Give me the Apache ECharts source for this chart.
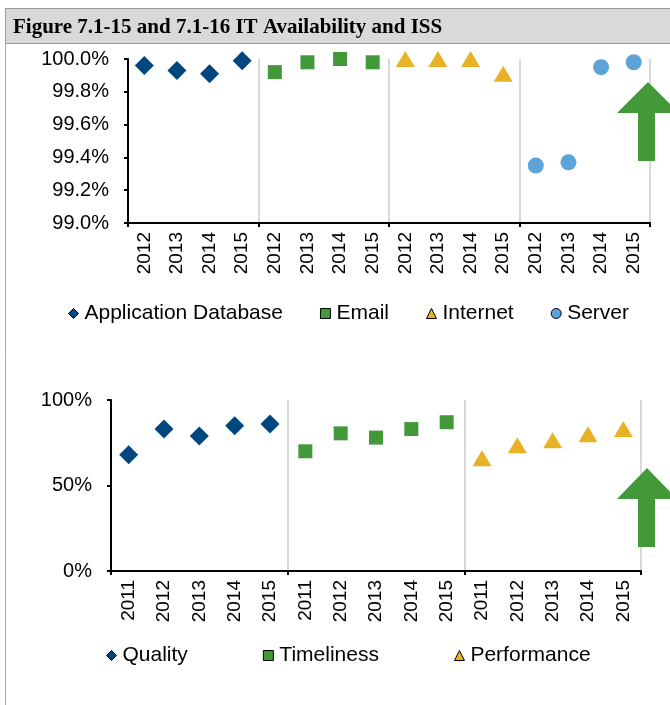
<!DOCTYPE html>
<html>
<head>
<meta charset="utf-8">
<title>IT Availability and ISS</title>
<script src="https://cdn.jsdelivr.net/npm/echarts@6/dist/echarts.min.js"></script>
<style>
  html, body { margin: 0; padding: 0; background: #fff; }
  #main { width: 670px; height: 705px; }
</style>
</head>
<body>
<div id="main"></div>
<script>
// top chart: IT availability (percent)
var topYears = ['2012', '2013', '2014', '2015'];
var appDatabase = [99.96, 99.93, 99.91, 99.99];
var email = [99.92, 99.98, 100.0, 99.98];
var internet = [100.0, 100.0, 100.0, 99.91];
var server = [99.35, 99.37, 99.95, 99.98];
var topTicks = [99.0, 99.2, 99.4, 99.6, 99.8, 100.0];

// bottom chart: ISS (percent)
var bottomYears = ['2011', '2012', '2013', '2014', '2015'];
var quality = [68, 83, 79, 85, 86];
var timeliness = [70, 80.5, 78, 83, 87];
var performance = [66, 73.5, 76.5, 80, 83];
var bottomTicks = [0, 50, 100];

var BLUE = '#00467f', GREEN = '#43983a', GOLD = '#e8b224', SKY = '#5ba3d9';
var FONT = '"Liberation Sans", Arial, sans-serif';

// category list = years repeated once per series
var topCats = [].concat(topYears, topYears, topYears, topYears);
var bottomCats = [].concat(bottomYears, bottomYears, bottomYears);

function pts(values, group, size) {
  return values.map(function (v, i) { return [group * size + i, v]; });
}

function catAxis(gridIndex, cats, groupSize) {
  // separators only at the start of each group (+ the closing one echarts adds)
  var atGroup = function (i) { return i % groupSize === 0; };
  return {
    type: 'category',
    gridIndex: gridIndex,
    data: cats,
    boundaryGap: true,
    axisLine: { lineStyle: { color: '#000', width: 2 } },
    axisTick: { show: true, interval: atGroup, length: 4, lineStyle: { color: '#000', width: 2 } },
    axisLabel: { interval: 0, rotate: 90, margin: 9, color: '#000', fontSize: 19, fontFamily: FONT },
    splitLine: { show: true, interval: atGroup, lineStyle: { color: '#d9d9d9', width: 2 } }
  };
}

var chart = echarts.init(document.getElementById('main'), null, { renderer: 'canvas' });

var option = {
  backgroundColor: '#fff',
  animation: false,
  grid: [
    { left: 128, top: 59, width: 522, height: 164 },
    { left: 111, top: 400, width: 530, height: 171 }
  ],
  xAxis: [catAxis(0, topCats, 4), catAxis(1, bottomCats, 5)],
  yAxis: [
    {
      type: 'value', gridIndex: 0,
      min: topTicks[0], max: topTicks[topTicks.length - 1], interval: 0.2,
      axisLine: { show: true, lineStyle: { color: '#000', width: 2 } },
      axisTick: { show: true, length: 4, lineStyle: { color: '#000', width: 2 } },
      axisLabel: { color: '#000', fontSize: 20, fontFamily: FONT, margin: 19,
        formatter: function (v) { return v.toFixed(1) + '%'; } },
      splitLine: { show: false }
    },
    {
      type: 'value', gridIndex: 1,
      min: bottomTicks[0], max: bottomTicks[bottomTicks.length - 1], interval: 50,
      axisLine: { show: true, lineStyle: { color: '#000', width: 2 } },
      axisTick: { show: true, length: 4, lineStyle: { color: '#000', width: 2 } },
      axisLabel: { color: '#000', fontSize: 20, fontFamily: FONT, margin: 19,
        formatter: function (v) { return v + '%'; } },
      splitLine: { show: false }
    }
  ],
  legend: [
    {
      left: 63, top: 298,
      itemWidth: 10, itemHeight: 10, itemGap: 37,
      itemStyle: { borderColor: '#000', borderWidth: 1 },
      textStyle: { color: '#000', fontSize: 21, fontFamily: FONT, padding: [0, 0, 0, 1] },
      data: [
        { name: 'Application Database', icon: 'diamond' },
        { name: 'Email', icon: 'rect' },
        { name: 'Internet', icon: 'triangle' },
        { name: 'Server', icon: 'circle' }
      ]
    },
    {
      left: 101, top: 640,
      itemWidth: 10, itemHeight: 10, itemGap: 75,
      itemStyle: { borderColor: '#000', borderWidth: 1 },
      textStyle: { color: '#000', fontSize: 21, fontFamily: FONT, padding: [0, 0, 0, 1] },
      data: [
        { name: 'Quality', icon: 'diamond' },
        { name: 'Timeliness', icon: 'rect' },
        { name: 'Performance', icon: 'triangle' }
      ]
    }
  ],
  graphic: [
    // title bar
    { type: 'rect', shape: { x: 5.5, y: 8.5, width: 670, height: 35 },
      style: { fill: '#d9d9d9', stroke: '#9a9a9a', lineWidth: 1 }, z: 1 },
    { type: 'line', shape: { x1: 5.5, y1: 8, x2: 5.5, y2: 705 },
      style: { stroke: '#a6a6a6', lineWidth: 1 } },
    { type: 'text', left: 13, top: 17,
      style: { text: 'Figure 7.1-15 and 7.1-16 IT Availability and ISS', fill: '#000',
        font: 'bold 21px "Liberation Serif", "Times New Roman", serif' }, z: 2 },
    // improvement arrows
    { type: 'polygon', z: 10,
      shape: { points: [[648, 82], [679, 113], [655, 113], [655, 161], [638, 161], [638, 113], [617, 113]] },
      style: { fill: GREEN } },
    { type: 'polygon', z: 10,
      shape: { points: [[647, 468], [677, 499], [655, 499], [655, 547], [638, 547], [638, 499], [617, 499]] },
      style: { fill: GREEN } }
  ],
  series: [
    { name: 'Application Database', type: 'scatter', xAxisIndex: 0, yAxisIndex: 0, clip: false,
      symbol: 'diamond', symbolSize: 19, itemStyle: { color: BLUE, opacity: 1 }, data: pts(appDatabase, 0, 4) },
    { name: 'Email', type: 'scatter', xAxisIndex: 0, yAxisIndex: 0, clip: false,
      symbol: 'rect', symbolSize: 14, itemStyle: { color: GREEN, opacity: 1 }, data: pts(email, 1, 4) },
    { name: 'Internet', type: 'scatter', xAxisIndex: 0, yAxisIndex: 0, clip: false,
      symbol: 'triangle', symbolSize: [19, 16], itemStyle: { color: GOLD, opacity: 1 }, data: pts(internet, 2, 4) },
    { name: 'Server', type: 'scatter', xAxisIndex: 0, yAxisIndex: 0, clip: false,
      symbol: 'circle', symbolSize: 16, itemStyle: { color: SKY, opacity: 1 }, data: pts(server, 3, 4) },
    { name: 'Quality', type: 'scatter', xAxisIndex: 1, yAxisIndex: 1, clip: false,
      symbol: 'diamond', symbolSize: 19, itemStyle: { color: BLUE, opacity: 1 }, data: pts(quality, 0, 5) },
    { name: 'Timeliness', type: 'scatter', xAxisIndex: 1, yAxisIndex: 1, clip: false,
      symbol: 'rect', symbolSize: 14, itemStyle: { color: GREEN, opacity: 1 }, data: pts(timeliness, 1, 5) },
    { name: 'Performance', type: 'scatter', xAxisIndex: 1, yAxisIndex: 1, clip: false,
      symbol: 'triangle', symbolSize: [19, 16], itemStyle: { color: GOLD, opacity: 1 }, data: pts(performance, 2, 5) }
  ]
};

chart.setOption(option);
</script>
</body>
</html>
